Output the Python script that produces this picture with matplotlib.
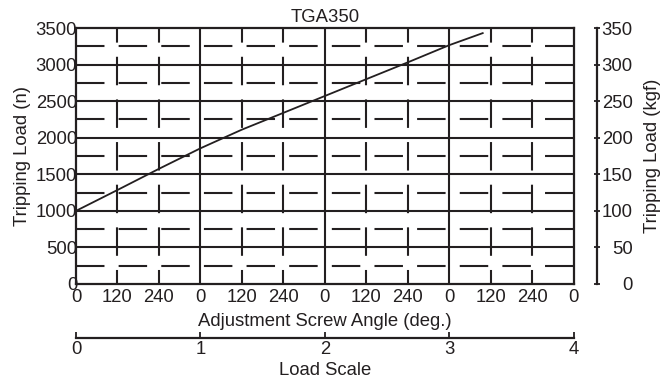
import numpy as np
import matplotlib
matplotlib.use('Agg')
import matplotlib.pyplot as plt

# curve (load scale position vs tripping load in n)
load_scale = [0, 0.333, 0.667, 1.0, 1.333, 1.667, 2.0, 2.333, 2.667, 3.0, 3.27]
tripping_n = [1000, 1285, 1575, 1855, 2110, 2340, 2570, 2800, 3030, 3265, 3430]

angle_labels = ['0', '120', '240', '0', '120', '240', '0', '120', '240',
                '0', '120', '240', '0']
load_ticks = [0, 1, 2, 3, 4]
n_ticks = [0, 500, 1000, 1500, 2000, 2500, 3000, 3500]
kgf_ticks = [0, 50, 100, 150, 200, 250, 300, 350]

ink = '#231f20'
plt.rcParams['font.family'] = ['Liberation Sans', 'DejaVu Sans']
plt.rcParams['font.size'] = 13.3
plt.rcParams['lines.scale_dashes'] = False
plt.rcParams['text.color'] = ink
plt.rcParams['axes.labelcolor'] = ink
plt.rcParams['xtick.color'] = ink
plt.rcParams['ytick.color'] = ink

fig = plt.figure(figsize=(6.71, 3.81), dpi=100)
ax = fig.add_axes([0.1133, 0.2546, 0.7414, 0.6719])

xmax = load_ticks[-1]
ymax = n_ticks[-1]
ax.set_xlim(0, xmax)
ax.set_ylim(0, ymax)

# grid: solid at whole load units / 500 n, dashed in between
minor_x = [x for x in np.linspace(0, xmax, len(angle_labels)) if x not in load_ticks]
half_rows = np.array(n_ticks[:-1]) + 250
ax.vlines(load_ticks[1:-1], 0, ymax, color=ink, lw=1.5, zorder=1)
ax.hlines(n_ticks[1:-1], 0, xmax, color=ink, lw=1.5, zorder=1)
ax.hlines(half_rows, 0, xmax, color=ink, lw=1.5, zorder=1,
          linestyle=(0, (20.5, 10.2)))
ax.vlines(minor_x, 0, ymax, color=ink, lw=1.5, zorder=1,
          linestyle=(10.4, (20.5, 10.2)))

ax.plot(load_scale, tripping_n, color=ink, lw=1.3, zorder=3)

for s in ax.spines.values():
    s.set_linewidth(1.6)
    s.set_color(ink)

ax.set_xticks(np.linspace(0, xmax, len(angle_labels)))
ax.set_xticklabels(angle_labels)
ax.set_yticks(n_ticks)
ax.tick_params(axis='x', length=0, pad=3.5)
ax.tick_params(axis='y', length=0, pad=-0.8)
ax.set_xlabel('Adjustment Screw Angle (deg.)', labelpad=5)
ax.set_ylabel('Tripping Load (n)', labelpad=3)
ax.set_title('TGA350', fontsize=13.3, pad=4)

# right kgf axis
ax2 = ax.twinx()
ax2.set_ylim(0, kgf_ticks[-1])
ax2.set_yticks(kgf_ticks)
for k in ['top', 'bottom', 'left']:
    ax2.spines[k].set_visible(False)
ax2.spines['right'].set_position(('outward', 16.6))
ax2.spines['right'].set_linewidth(1.6)
ax2.spines['right'].set_color(ink)
ax2.tick_params(axis='y', direction='inout', length=5, width=1.3, pad=23.5)
for t in ax2.get_yticklabels():
    t.set_horizontalalignment('right')
ax2.set_ylabel('Tripping Load (kgf)', labelpad=8)

# load scale under the chart
ax3 = ax.twiny()
ax3.set_xlim(0, xmax)
ax3.set_xticks(load_ticks)
for k in ['top', 'left', 'right']:
    ax3.spines[k].set_visible(False)
ax3.xaxis.set_ticks_position('bottom')
ax3.xaxis.set_label_position('bottom')
ax3.spines['bottom'].set_position(('outward', 38.7))
ax3.spines['bottom'].set_linewidth(1.6)
ax3.spines['bottom'].set_color(ink)
ax3.tick_params(axis='x', direction='in', length=4.5, width=1.3, pad=2)
ax3.set_xlabel('Load Scale', labelpad=3)

fig.savefig('out.png', dpi=100)
